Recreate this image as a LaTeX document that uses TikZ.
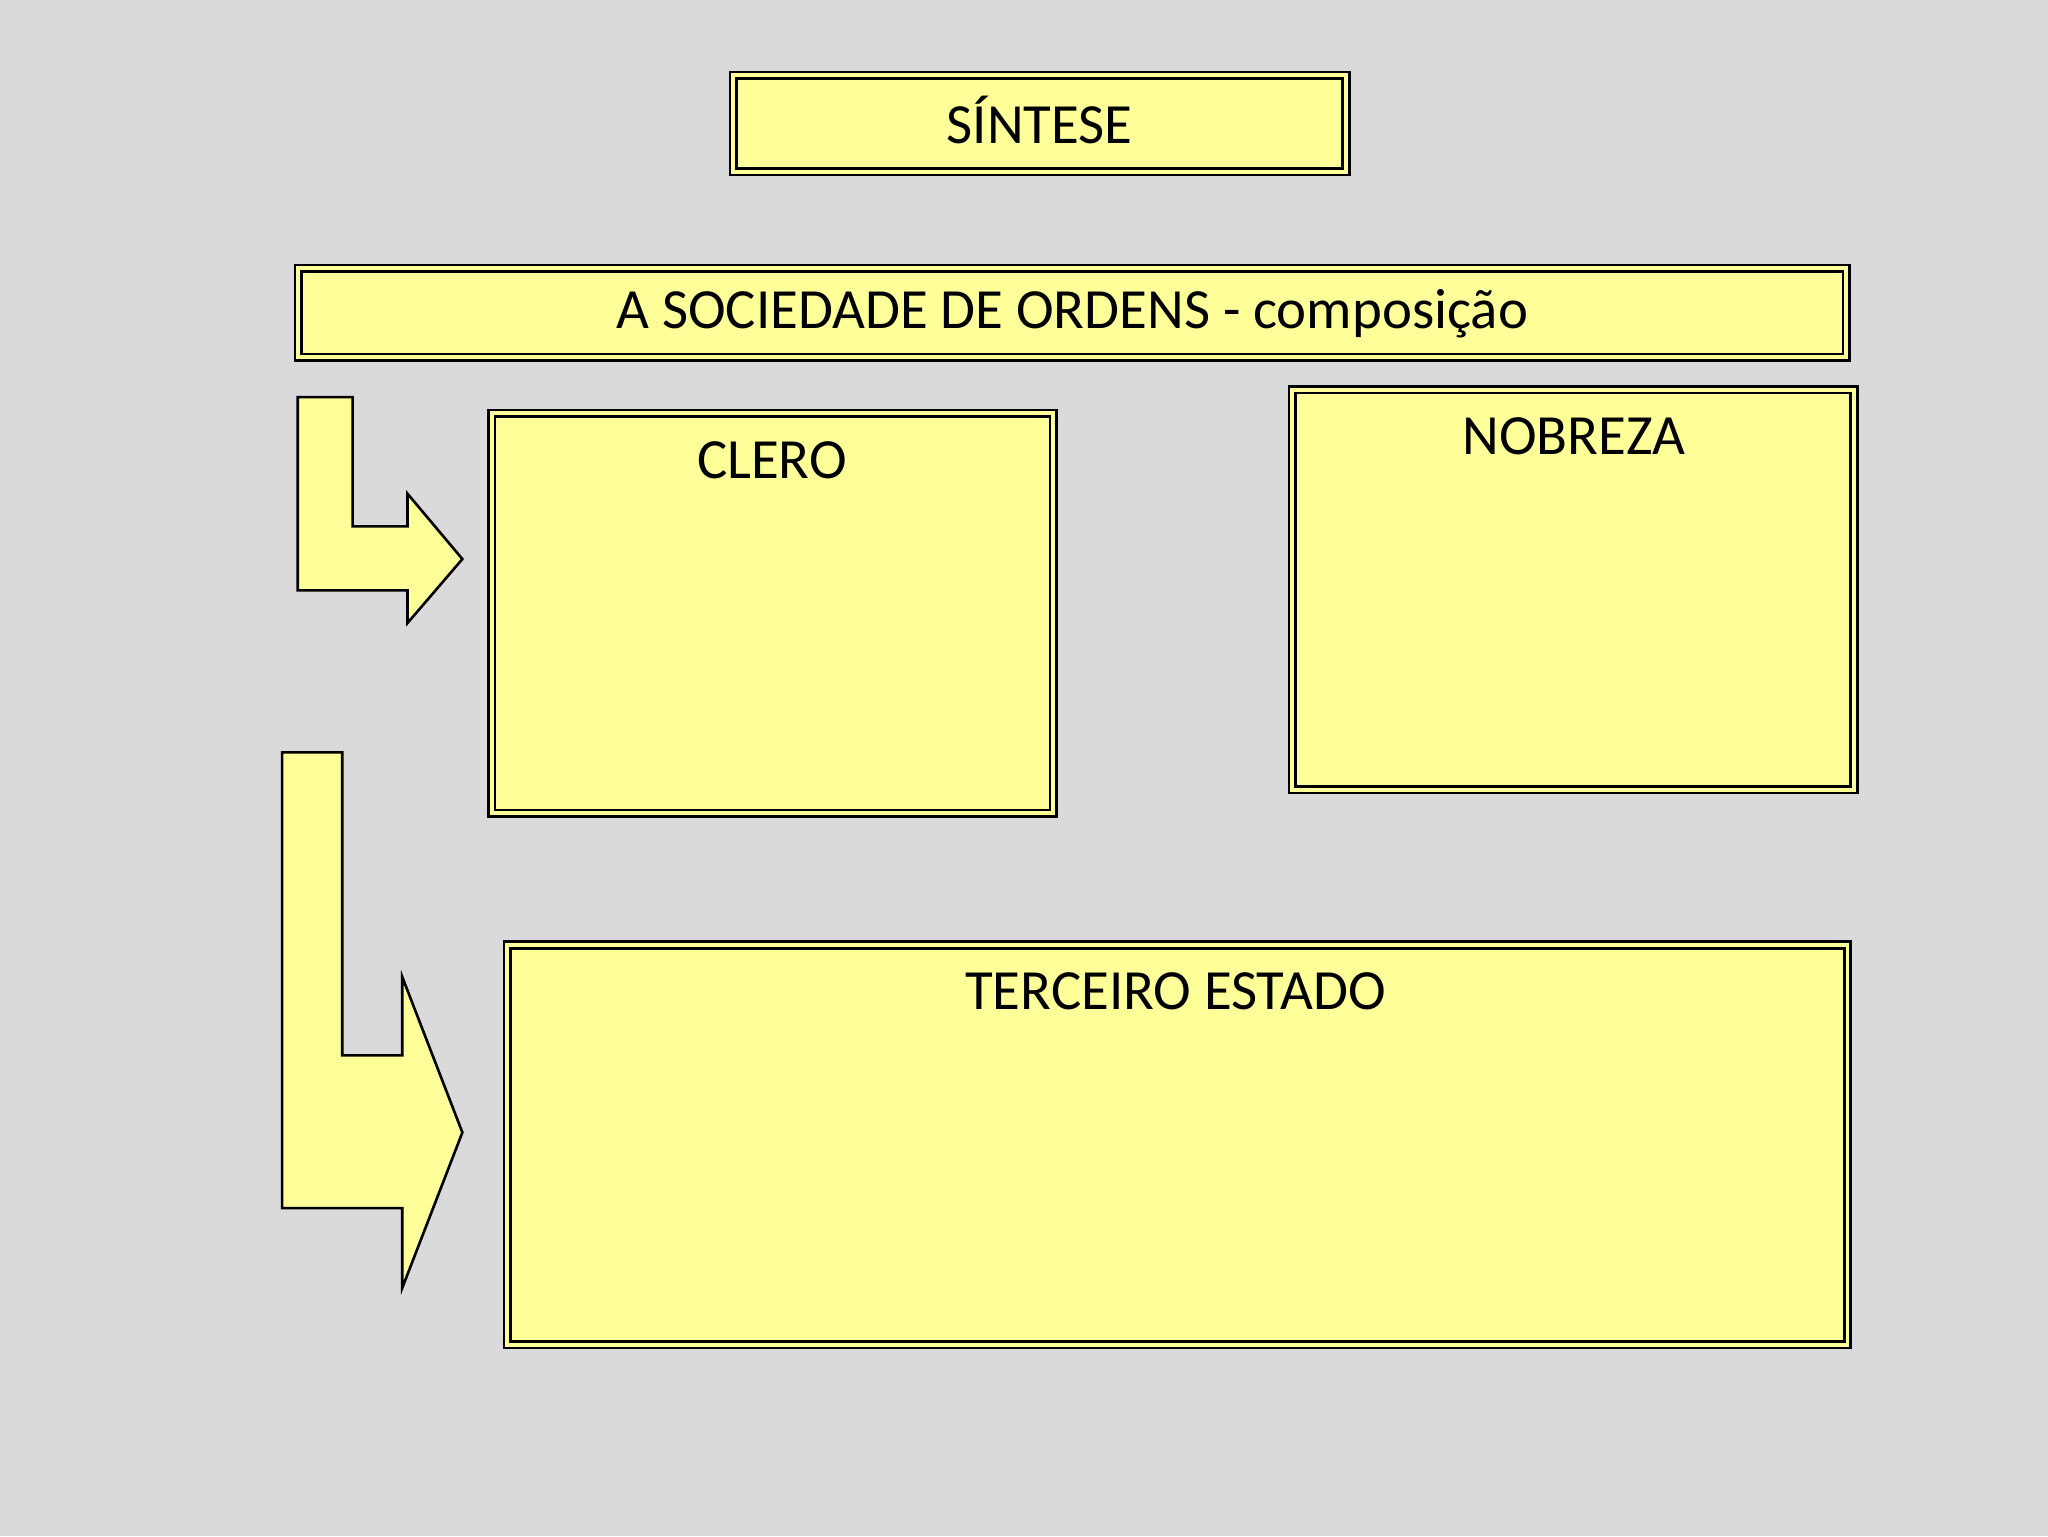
\documentclass[tikz,border=0pt]{standalone}
\usepackage{fontspec}
\setmainfont{Carlito}
\definecolor{bg}{HTML}{DADADC}
\definecolor{yel}{HTML}{FFFF99}
\tikzset{
  dbox/.style={fill=yel,draw=black,line width=2pt},
  ibox/.style={draw=black,line width=2pt},
  lab/.style={font=\fontsize{43.5}{50}\selectfont,anchor=center},
  arr/.style={fill=yel,draw=black,line width=2pt,line join=miter}
}
\newcommand{\dbl}[5]{%
  \path[dbox] (#1,#2) rectangle (#3,#4);
  \path[ibox] (#1+5,#2+5) rectangle (#3-5,#4-5);
}
\begin{document}
\begin{tikzpicture}[x=1pt,y=-1pt]
\fill[bg] (0,0) rectangle (1568,1176);
\useasboundingbox (0,0) rectangle (1568,1176);
\dbl{559}{55}{1033}{134}{}
\node[lab] (s) at (796,92) {SÍNTESE};
\dbl{226}{203}{1416}{276}{}
\node[lab] (t) at (821,240) {A SOCIEDADE DE ORDENS - composição};
\dbl{374}{314}{809}{625}{}
\node[lab] (c) at (591,352) {CLERO};
\dbl{987}{296}{1422}{607}{}
\node[lab] (n) at (1205,334) {NOBREZA};
\dbl{386}{721}{1417}{1032}{}
\node[lab] (e) at (900,759) {TERCEIRO ESTADO};
\draw[arr] (228,304) -- (270,304) -- (270,403) -- (312,403) -- (312,378) -- (354,428) -- (312,477) -- (312,452) -- (228,452) -- cycle;
\draw[arr] (216,576) -- (262,576) -- (262,808) -- (308,808) -- (308,748) -- (354,867) -- (308,986) -- (308,925) -- (216,925) -- cycle;
\end{tikzpicture}
\end{document}
